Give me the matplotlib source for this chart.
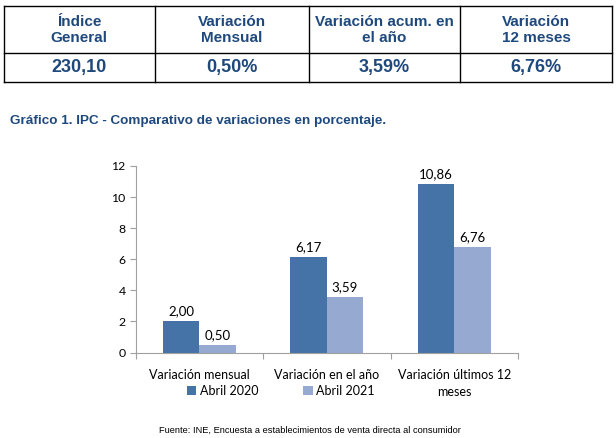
import numpy as np
import matplotlib.pyplot as plt

# table data
table_headers = ['Índice\nGeneral', 'Variación\nMensual', 'Variación acum. en\nel año', 'Variación\n12 meses']
table_values = ['230,10', '0,50%', '3,59%', '6,76%']

# chart data
categories = ['Variación mensual', 'Variación en el año', 'Variación últimos 12\nmeses']
abril_2020 = [2.00, 6.17, 10.86]
abril_2021 = [0.50, 3.59, 6.76]
series_names = ['Abril 2020', 'Abril 2021']

title = 'Gráfico 1. IPC - Comparativo de variaciones en porcentaje.'
source = 'Fuente: INE, Encuesta a establecimientos de venta directa al consumidor'

W, H = 616, 438
navy = '#1F497D'
dark = '#4572A7'
light = '#95A9D1'
chart_font = 'Lato'

fig = plt.figure(figsize=(W / 100, H / 100), dpi=100)

# overlay in pixel coordinates for table and texts
ov = fig.add_axes([0, 0, 1, 1])
ov.set_xlim(0, W)
ov.set_ylim(H, 0)
ov.axis('off')

col_edges = [3.5, 155, 309, 460, 612]
row_edges = [6, 52.5, 81.5]
for x in col_edges:
    ov.plot([x, x], [row_edges[0], row_edges[-1]], color='black', lw=1.0)
for y in row_edges:
    ov.plot([col_edges[0], col_edges[-1]], [y, y], color='black', lw=1.0)

for i, (hd, val) in enumerate(zip(table_headers, table_values)):
    cx = (col_edges[i] + col_edges[i + 1]) / 2
    ov.text(cx, (row_edges[0] + row_edges[1]) / 2 + 1, hd, ha='center', va='center',
            fontsize=11, fontweight='bold', color=navy, family='Liberation Sans',
            linespacing=1.15)
    ov.text(cx, (row_edges[1] + row_edges[2]) / 2 + 0.5, val, ha='center', va='center',
            fontsize=13, fontweight='bold', color=navy, family='Liberation Sans')

ov.text(10, 121, title, ha='left', va='center', fontsize=9.7, fontweight='bold',
        color=navy, family='Liberation Sans')
ov.text(310, 430, source, ha='center', va='center', fontsize=6.7, color='black',
        family='Liberation Sans')

# bar chart
x0, x1, y0, y1 = 135.5, 518, 352.5, 166
ax = fig.add_axes([x0 / W, (H - y0) / H, (x1 - x0) / W, (y0 - y1) / H])
x = np.arange(len(categories))
w = 0.287
b1 = ax.bar(x - w / 2, abril_2020, w, color=dark, label=series_names[0])
b2 = ax.bar(x + w / 2, abril_2021, w, color=light, label=series_names[1])
for bars, vals in [(b1, abril_2020), (b2, abril_2021)]:
    for bar, v in zip(bars, vals):
        ax.text(bar.get_x() + bar.get_width() / 2, v + 0.25, f'{v:.2f}'.replace('.', ','),
                ha='center', va='bottom', fontsize=9.5, family=chart_font)

ax.set_xlim(-0.5, len(categories) - 0.5)
ax.set_ylim(0, 12)
ax.set_yticks(range(0, 13, 2))
ax.set_xticks(np.arange(-0.5, len(categories)), minor=False)
ax.set_xticklabels([''] * (len(categories) + 1))
ax.set_xticks(x, minor=True)
ax.set_xticklabels(categories, minor=True, fontsize=9, family=chart_font,
                   multialignment='center', linespacing=1.45)
ax.tick_params(axis='x', which='minor', length=0, pad=12)
ax.tick_params(axis='x', which='major', length=4, color='#A0A0A0', direction='out')
ax.tick_params(axis='y', length=4, color='#A0A0A0', labelsize=8.8, pad=3)
for lab in ax.get_yticklabels():
    lab.set_family(chart_font)
for s in ['top', 'right']:
    ax.spines[s].set_visible(False)
for s in ['left', 'bottom']:
    ax.spines[s].set_color('#A0A0A0')
ax.set_facecolor('none')

leg = ax.legend(loc='center', bbox_to_anchor=(0.38, -0.205), ncol=2, frameon=False,
                prop={'family': chart_font, 'size': 9}, handlelength=0.75,
                handleheight=0.75, handletextpad=0.3, columnspacing=3.6)

fig.savefig('out.png', dpi=100)
